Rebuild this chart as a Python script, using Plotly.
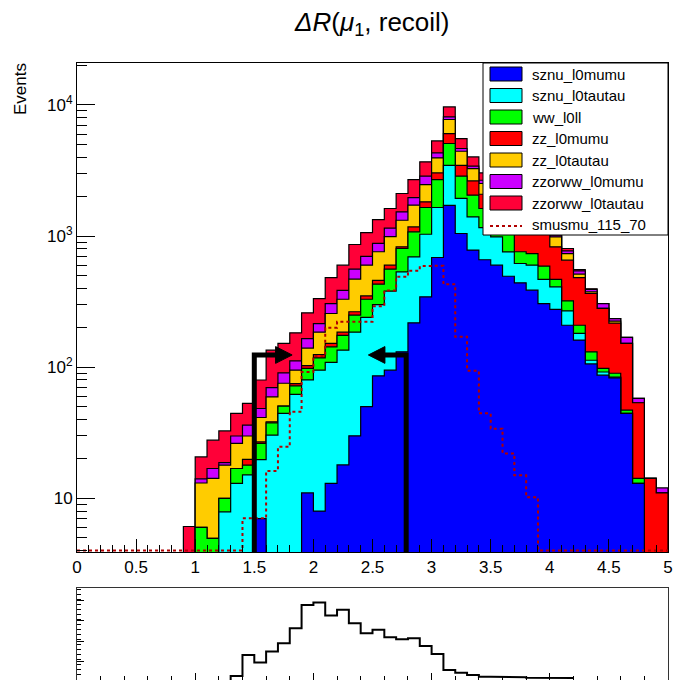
import numpy as np
import plotly.graph_objects as go

# ---------------- data ----------------
bin_edges = np.round(np.linspace(0.0, 5.0, 51), 2)

z9 = [0] * 9
sznu_l0mumu = z9 + [0, 0, 0, 0, 0, 0, 7.0, 0, 0, 0,
                    11, 8, 13, 18, 30, 50, 86, 95, 131, 218,
                    344, 687, 1718, 1047, 782, 660, 600, 494, 440, 387,
                    306, 276, 209, 161, 106, 87, 83, 44.5, 13, 0,
                    0]
sznu_l0tautau = z9 + [0, 0, 0, 7.9, 13, 15.1, 12.75, 30.4, 44.5, 62,
                      69, 87, 96, 117, 155, 190, 214, 285, 402, 476,
                      689, 965, 1749, 889, 618, 502, 386, 264, 178, 213,
                      161, 134, 60, 20, 7, 5, 1, 0, 0, 0,
                      0]
ww_l0ll = z9 + [0, 6.0, 4.95, 2.1, 3.9, 2.8, 6.5, 7.3, 6, 10,
                18, 23, 34, 40, 65, 90, 130, 180, 271, 383,
                619, 1046, 1615, 928, 651, 461, 400, 300, 142, 136,
                123, 57, 52, 28, 18, 6, 6, 2.6, 1.2, 0,
                0]
zz_l0mumu = z9 + [0, 0, 0, 0, 0, 1.9, 0.7, 0.7, 0, 3,
                  5, 7, 9, 10, 15, 20, 30, 40, 24, 98,
                  172, 335, 971, 603, 585, 462, 400, 450, 600, 550,
                  450, 361, 334, 274, 234, 183, 127, 105, 39.4, 14.2,
                  11]
zz_l0tautau = z9 + [0, 7.1, 9.25, 7.9, 9.4, 10.1, 14.4, 21.1, 25, 20,
                    37, 60, 105, 145, 205, 250, 300, 390, 493, 547,
                    648, 912, 1692, 969, 637, 433, 300, 250, 200, 150,
                    130, 158, 81, 30, 11, 0, 8, 0, 0, 0,
                    0]
zzorww_l0mumu = z9 + [0, 1.0, 2.7, 0.8, 3.6, 6.3, 7.1, 10.5, 15, 17,
                      25, 30, 49, 55, 90, 100, 120, 160, 207, 245,
                      392, 361, 365, 220, 139, 149, 100, 80, 60, 50,
                      40, 30, 35, 30, 16, 25, 10, 17, 4.2, 0,
                      1.0]
zzorww_l0tautau = z9 + [6.1, 6.6, 10.9, 14, 14.6, 16.8, 31.5, 65, 61.5, 71,
                        95, 119, 177, 215, 303, 364, 454, 473, 585, 731,
                        818, 1015, 1550, 890, 606, 366, 300, 250, 200, 150,
                        120, 150, 33, 13, 4, 0, 0, 0, 0, 0,
                        0]
smusmu_115_70 = [0] * 14 + [7.05, 7.05, 16.2, 24.7, 45.7, 92, 122, 200, 222, 222,
                            222, 292, 385, 490, 545, 590, 595, 430, 171, 94,
                            44.5, 34, 22, 15, 10.2] + [0] * 11

# lower pad
lower_vals = [0] * 13 + [1.2, 7.5, 5.2, 8.5, 11, 15.5, 22.4, 23.2, 19.3, 21,
                         17, 14, 15, 12.8, 12.2, 12.5, 10.2, 7.8, 3.0, 2.2,
                         1.5, 1.0, 1.0, 0.8, 0.8, 0.7, 0.7, 0.6, 0.6] + [0] * 8

names = ["sznu_l0mumu", "sznu_l0tautau", "ww_l0ll", "zz_l0mumu",
         "zz_l0tautau", "zzorww_l0mumu", "zzorww_l0tautau"]
stack = [sznu_l0mumu, sznu_l0tautau, ww_l0ll, zz_l0mumu,
         zz_l0tautau, zzorww_l0mumu, zzorww_l0tautau]
colors = ["#0000ff", "#00ffff", "#00ff00", "#ff0000",
          "#ffcc00", "#cc00ff", "#ff0038"]
sig_name = "smusmu_115_70"
sig_color = "#b00000"

cuts = [1.5, 2.785]
cut_dirs = [1, -1]
arrow_y = 124.0

# ---------------- geometry ----------------
W = H = 680
ML, MR = 77, 12
PW = W - ML - MR
YLOG = [0.591, 4.320]
main_dom = [(H - 552) / H, (H - 63) / H]
low_dom = [0.0, (H - 588) / H]


def px2x(px):
    return (px - ML) / PW


def py2y(py):
    return 1 - py / H


FLOOR = 1.0


def step_xy(vals, floor):
    xs, ys = [bin_edges[0]], [floor]
    for i, v in enumerate(vals):
        vv = v if v > 0 else floor
        xs += [bin_edges[i], bin_edges[i + 1]]
        ys += [vv, vv]
    xs.append(bin_edges[-1])
    ys.append(floor)
    return xs, ys


fig = go.Figure()

cum = np.cumsum(np.array(stack, dtype=float), axis=0)
for k in reversed(range(len(stack))):
    xs, ys = step_xy(cum[k], FLOOR)
    fig.add_trace(go.Scatter(x=xs, y=ys, mode="lines", fill="toself",
                             fillcolor=colors[k],
                             line=dict(color="black", width=1.2),
                             hoverinfo="skip", showlegend=False,
                             xaxis="x", yaxis="y"))

# signal
sig_floor = 10 ** (YLOG[0] + 0.012)
xs, ys = step_xy(smusmu_115_70, sig_floor)
fig.add_trace(go.Scatter(x=xs, y=ys, mode="lines",
                         line=dict(color=sig_color, width=2, dash="dot"),
                         hoverinfo="skip", showlegend=False,
                         xaxis="x", yaxis="y"))

# cut arrows
head_len = 0.14
shaft_len = 0.18
head_f = 10 ** 0.064
for c, d in zip(cuts, cut_dirs):
    fig.add_trace(go.Scatter(x=[c, c, c + d * (shaft_len + 0.005)],
                             y=[FLOOR, arrow_y, arrow_y], mode="lines",
                             line=dict(color="black", width=5),
                             hoverinfo="skip", showlegend=False,
                             xaxis="x", yaxis="y"))
    bx = c + d * shaft_len
    fig.add_trace(go.Scatter(x=[bx, bx + d * head_len, bx, bx],
                             y=[arrow_y * head_f, arrow_y, arrow_y / head_f, arrow_y * head_f],
                             mode="lines", fill="toself", fillcolor="black",
                             line=dict(color="black", width=1),
                             hoverinfo="skip", showlegend=False,
                             xaxis="x", yaxis="y"))

# lower pad histogram
nz = [i for i, v in enumerate(lower_vals) if v > 0]
i0, i1 = nz[0], nz[-1]
lx, ly = [bin_edges[i0]], [0]
for i in range(i0, i1 + 1):
    lx += [bin_edges[i], bin_edges[i + 1]]
    ly += [lower_vals[i], lower_vals[i]]
fig.add_trace(go.Scatter(x=lx, y=ly, mode="lines",
                         line=dict(color="black", width=2),
                         hoverinfo="skip", showlegend=False,
                         xaxis="x2", yaxis="y2"))

FONT = "Liberation Sans, Arial, Helvetica, sans-serif"

# minor log ticks
minor_y = [m * 10 ** p for p in range(0, 5) for m in range(2, 10)
           if YLOG[0] < np.log10(m * 10 ** p) < YLOG[1]]

fig.update_layout(
    width=W, height=H,
    margin=dict(l=ML, r=MR, t=0, b=0, pad=0),
    paper_bgcolor="white", plot_bgcolor="white",
    font=dict(family=FONT, size=17, color="black"),
    showlegend=False,
    xaxis=dict(domain=[0, 1], range=[0, 5], anchor="y",
               tickvals=[0, 0.5, 1, 1.5, 2, 2.5, 3, 3.5, 4, 4.5, 5],
               ticktext=["0", "0.5", "1", "1.5", "2", "2.5", "3", "3.5", "4", "4.5", "5"],
               ticks="inside", ticklen=13, tickwidth=1, tickcolor="black",
               minor=dict(dtick=0.1, tick0=0, ticks="inside", ticklen=7,
                          tickcolor="black", showgrid=False),
               showline=True, linecolor="black", linewidth=1, mirror=True,
               showgrid=False, zeroline=False,
               tickfont=dict(size=17, family=FONT)),
    yaxis=dict(domain=main_dom, type="log", range=YLOG, anchor="x",
               tickvals=[10, 100, 1000, 10000],
               ticktext=["10", "10<sup>2</sup>", "10<sup>3</sup>", "10<sup>4</sup>"],
               ticks="inside", ticklen=18, tickwidth=1, tickcolor="black",
               minor=dict(tickvals=minor_y, ticks="inside", ticklen=10,
                          tickcolor="black", showgrid=False),
               showline=True, linecolor="black", linewidth=1, mirror=True,
               showgrid=False, zeroline=False,
               tickfont=dict(size=17, family=FONT)),
    xaxis2=dict(domain=[0, 1], range=[0, 5], anchor="y2",
                tickvals=[0, 1, 2, 3, 4, 5], showticklabels=False,
                ticks="inside", ticklen=7, tickcolor="black",
                minor=dict(dtick=0.2, tick0=0, ticks="inside", ticklen=4,
                           tickcolor="black", showgrid=False),
                showline=True, linecolor="#333", linewidth=1, mirror=True,
                showgrid=False, zeroline=False),
    yaxis2=dict(domain=low_dom, range=[0, 27.5], anchor="x2",
                tickvals=[5.5, 11.5, 17.7, 23.7], showticklabels=False,
                ticks="inside", ticklen=7, tickcolor="black",
                minor=dict(dtick=1.5, tick0=0, ticks="inside", ticklen=4,
                           tickcolor="black", showgrid=False),
                showline=True, linecolor="#333", linewidth=1, mirror=True,
                showgrid=False, zeroline=False),
)

shapes = []
annotations = []

# legend box
shapes.append(dict(type="rect", xref="paper", yref="paper",
                   x0=px2x(483), x1=px2x(668), y0=py2y(235), y1=py2y(63),
                   fillcolor="white", line=dict(color="black", width=1),
                   layer="above"))
row_y = [74, 95.5, 117, 138.5, 160, 181.5, 203, 224.5]
for k, nm in enumerate(names):
    yc = row_y[k]
    shapes.append(dict(type="rect", xref="paper", yref="paper",
                       x0=px2x(490), x1=px2x(522), y0=py2y(yc + 7), y1=py2y(yc - 7),
                       fillcolor=colors[k], line=dict(color="black", width=1),
                       layer="above"))
    annotations.append(dict(xref="paper", yref="paper", x=px2x(530), y=py2y(yc),
                            text=nm, showarrow=False, xanchor="left", yanchor="middle",
                            font=dict(size=15, family=FONT, color="black")))
yc = row_y[7]
shapes.append(dict(type="line", xref="paper", yref="paper",
                   x0=px2x(490), x1=px2x(522), y0=py2y(yc + 1.5), y1=py2y(yc + 1.5),
                   line=dict(color=sig_color, width=2, dash="dot"), layer="above"))
annotations.append(dict(xref="paper", yref="paper", x=px2x(530), y=py2y(yc),
                        text=sig_name, showarrow=False, xanchor="left", yanchor="middle",
                        font=dict(size=15, family=FONT, color="black")))

# title
annotations.append(dict(xref="paper", yref="paper", x=px2x(372), y=py2y(24),
                        text="<i>ΔR</i>(<i>μ</i><sub>1</sub>, recoil)",
                        showarrow=False, xanchor="center", yanchor="middle",
                        font=dict(size=26, family=FONT, color="black")))
# y title
annotations.append(dict(xref="paper", yref="paper", x=px2x(21), y=py2y(89),
                        text="Events", textangle=-90, showarrow=False,
                        xanchor="center", yanchor="middle",
                        font=dict(size=17, family=FONT, color="black")))

fig.update_layout(shapes=shapes, annotations=annotations)
fig.write_html("out.html")
